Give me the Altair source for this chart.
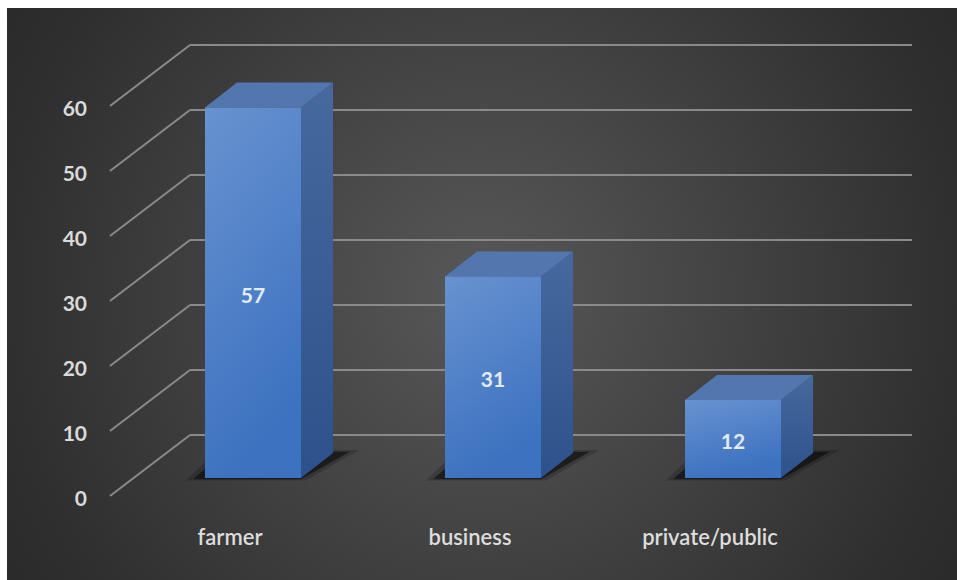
import altair as alt
import pandas as pd

# ---- data ----
categories = ["farmer", "business", "private/public"]
values = [57, 31, 12]
y_ticks = [0, 10, 20, 30, 40, 50, 60]

# ---- geometry / style constants (in scale units) ----
HALF = 0.2          # half width of the bar front face (x units)
DX = 32 / 240       # depth shift in x units
DY = 25 / 6.5       # depth shift in value units
FONT = "Lato"

idx = list(range(len(categories)))
centers = [i + 0.5 for i in idx]

front = pd.DataFrame({
    "cat": categories,
    "xl": [c - HALF for c in centers],
    "xr": [c + HALF for c in centers],
    "v": values,
    "base": [0] * len(values),
})

side_rows, top_rows, shadow_rows, shadow2_rows = [], [], [], []
for cat, c, v in zip(categories, centers, values):
    xl, xr = c - HALF, c + HALF
    side_rows += [
        {"cat": cat, "x": xr, "y": 0, "y2": v},
        {"cat": cat, "x": xr + DX, "y": DY, "y2": v + DY},
    ]
    top_rows += [
        {"cat": cat, "y": v, "x": xl, "x2": xr},
        {"cat": cat, "y": v + DY, "x": xl + DX, "x2": xr + DX},
    ]
    shadow_rows += [
        {"cat": cat, "y": -0.2, "x": xl - 0.05, "x2": xr},
        {"cat": cat, "y": DY + 0.2, "x": xl + DX - 0.05, "x2": xr + DX + 0.07},
    ]
    shadow2_rows += [
        {"cat": cat, "y": -0.4, "x": xl - 0.08, "x2": xr + 0.02},
        {"cat": cat, "y": DY + 0.45, "x": xl + DX - 0.08, "x2": xr + DX + 0.11},
    ]
side = pd.DataFrame(side_rows)
top = pd.DataFrame(top_rows)
shadow = pd.DataFrame(shadow_rows)
shadow2 = pd.DataFrame(shadow2_rows)

labels = pd.DataFrame({"x": centers, "mid": [v / 2 for v in values],
                       "lab": [str(v) for v in values]})
cats = pd.DataFrame({"x": centers, "y0": [0] * len(categories), "cat": categories})
grid = pd.DataFrame({"v": y_ticks, "lab": [str(t) for t in y_ticks]})

xs = alt.Scale(domain=[0, 3], nice=False, zero=False)
ys = alt.Scale(domain=[0, 60], nice=False, zero=False)

bg = alt.Chart(pd.DataFrame({"a": [0]})).mark_rect(
    fill={"gradient": "radial", "x1": 0.5, "y1": 0.5, "r1": 0,
          "x2": 0.5, "y2": 0.5, "r2": 0.72,
          "stops": [{"offset": 0, "color": "#585858"},
                    {"offset": 0.7, "color": "#2f2f2f"},
                    {"offset": 1, "color": "#232323"}]},
    strokeWidth=0,
).encode(x=alt.value(-126), x2=alt.value(824), y=alt.value(-80), y2=alt.value(492))

back_grid = alt.Chart(grid).mark_rule(yOffset=-43, strokeWidth=2, color="#8a8a8a").encode(
    y=alt.Y("v:Q", scale=ys, axis=None),
    x=alt.value(57), x2=alt.value(779),
)

diag_grid = alt.Chart(grid).mark_rule(yOffset=18, y2Offset=-43, strokeWidth=2,
                                      color="#8a8a8a").encode(
    y=alt.Y("v:Q", scale=ys, axis=None),
    y2="v:Q",
    x=alt.value(-23), x2=alt.value(57),
)

tick_text = alt.Chart(grid).mark_text(font=FONT, fontSize=21, fontWeight="bold",
                                      color="#dadada", align="right",
                                      baseline="middle", dy=22).encode(
    y=alt.Y("v:Q", scale=ys, axis=None),
    x=alt.value(-46),
    text="lab:N",
)

shadow_outer = alt.Chart(shadow2).mark_area(orient="horizontal", color="#000000",
                                           opacity=0.18).encode(
    y=alt.Y("y:Q", scale=ys, axis=None),
    x=alt.X("x:Q", scale=xs, axis=None), x2="x2:Q",
    detail="cat:N",
)
shadow_inner = alt.Chart(shadow).mark_area(orient="horizontal", color="#000000",
                                          opacity=0.5).encode(
    y=alt.Y("y:Q", scale=ys, axis=None),
    x=alt.X("x:Q", scale=xs, axis=None), x2="x2:Q",
    detail="cat:N",
)

side_face = alt.Chart(side).mark_area(
    orient="vertical",
    fill={"gradient": "linear", "x1": 0, "y1": 0, "x2": 0, "y2": 1,
          "stops": [{"offset": 0, "color": "#46699e"},
                    {"offset": 1, "color": "#2d528b"}]},
).encode(
    x=alt.X("x:Q", scale=xs, axis=None),
    y=alt.Y("y:Q", scale=ys, axis=None), y2="y2:Q",
    detail="cat:N",
)

top_face = alt.Chart(top).mark_area(orient="horizontal", color="#5276ae").encode(
    y=alt.Y("y:Q", scale=ys, axis=None),
    x=alt.X("x:Q", scale=xs, axis=None), x2="x2:Q",
    detail="cat:N",
)

front_face = alt.Chart(front).mark_rect(
    fill={"gradient": "linear", "x1": 0, "y1": 0, "x2": 0.3, "y2": 1,
          "stops": [{"offset": 0, "color": "#6892d0"},
                    {"offset": 1, "color": "#3c72c0"}]},
    strokeWidth=0,
).encode(
    x=alt.X("xl:Q", scale=xs, axis=None), x2="xr:Q",
    y=alt.Y("v:Q", scale=ys, axis=None), y2="base:Q",
)

value_text = alt.Chart(labels).mark_text(font=FONT, fontSize=21, fontWeight="bold",
                                         color="#e3eaf4", baseline="middle", dy=4).encode(
    x=alt.X("x:Q", scale=xs, axis=None),
    y=alt.Y("mid:Q", scale=ys, axis=None),
    text="lab:N",
)

cat_text = alt.Chart(cats).mark_text(font=FONT, fontSize=22, fontWeight=600,
                                     color="#dddddd", baseline="middle",
                                     dx=-23, dy=60).encode(
    x=alt.X("x:Q", scale=xs, axis=None),
    y=alt.Y("y0:Q", scale=ys, axis=None),
    text="cat:N",
)

chart = alt.layer(
    bg, back_grid, diag_grid, tick_text, shadow_outer, shadow_inner,
    side_face, top_face, front_face, value_text, cat_text,
).properties(
    width=720, height=390,
    padding={"left": 133, "top": 88, "right": 104, "bottom": 102},
    autosize=alt.AutoSizeParams(type="none"),
    background="white",
).configure_view(stroke=None)

chart.save("out.html", embed_options={"renderer": "svg", "actions": False})
